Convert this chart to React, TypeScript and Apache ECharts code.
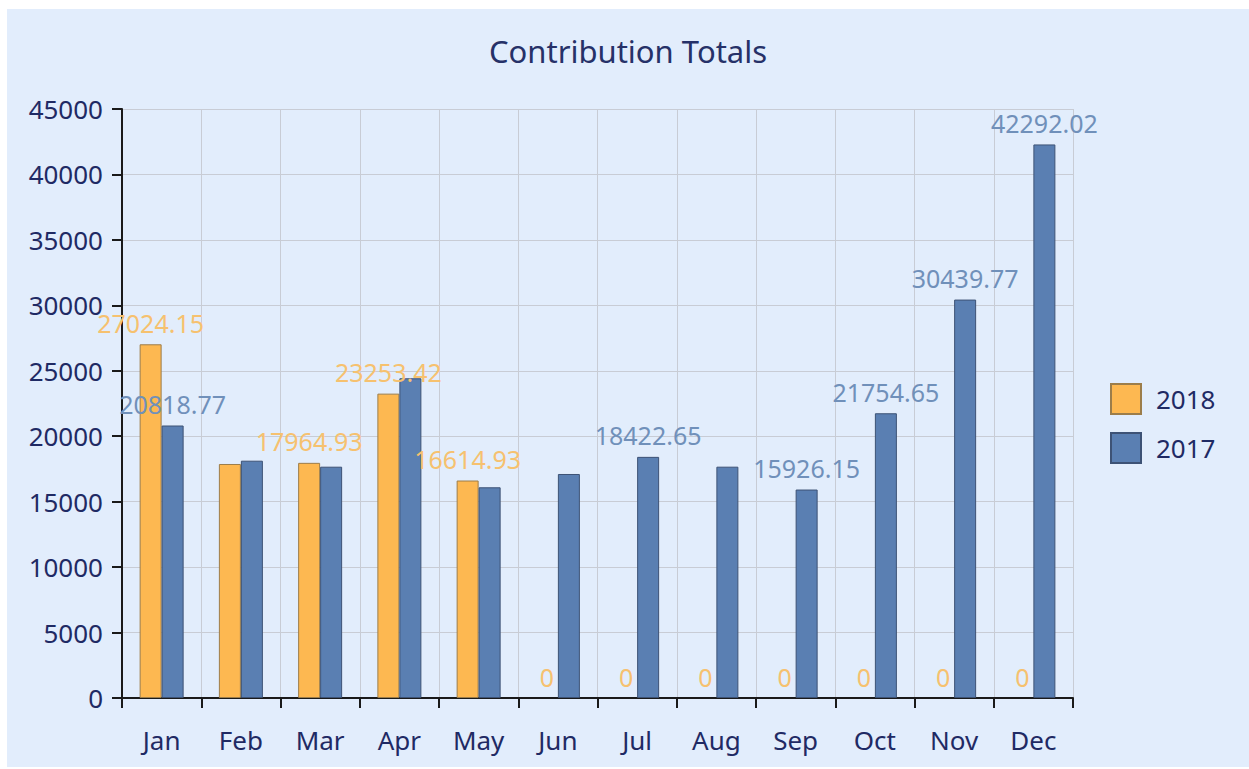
import React, { useEffect, useRef } from "react";
import * as echarts from "echarts";

const months = ["Jan", "Feb", "Mar", "Apr", "May", "Jun", "Jul", "Aug", "Sep", "Oct", "Nov", "Dec"];
const values2018 = [27024.15, 17878.4, 17964.93, 23253.42, 16614.93, 0, 0, 0, 0, 0, 0, 0];
const values2017 = [20818.77, 18130.5, 17672.3, 24425.8, 16098.6, 17114.2, 18422.65, 17672.9, 15926.15, 21754.65, 30439.77, 42292.02];
const show2018 = [true, false, true, true, true, true, true, true, true, true, true, true];
const show2017 = [true, false, false, false, false, false, true, false, true, true, true, true];
const yTicks = { min: 0, max: 45000, interval: 5000 };

const FONT = "'Noto Sans', 'Open Sans', sans-serif";

export default function App() {
  const ref = useRef<HTMLDivElement>(null);
  useEffect(() => {
    if (!ref.current) return;
    const chart = echarts.init(ref.current, null, { renderer: "svg" });
    const mk = (vals: number[], shows: boolean[]) =>
      vals.map((v, i) => ({
        value: v,
        label: { show: shows[i] },
        itemStyle: v === 0 ? { borderWidth: 0 } : undefined,
      }));
    chart.setOption({
      animation: false,
      backgroundColor: "#e2edfc",
      textStyle: { fontFamily: FONT },
      title: {
        text: "Contribution Totals",
        left: "center",
        top: 21,
        textStyle: { fontSize: 31, fontWeight: "normal", color: "#263168", fontFamily: FONT },
      },
      legend: {
        orient: "vertical",
        left: 1098,
        top: 369,
        itemWidth: 30,
        itemHeight: 30,
        itemGap: 17,
        icon: "rect",
        textStyle: { fontSize: 26, color: "#1f2a64", fontFamily: FONT, padding: [0, 0, 0, 10] },
        data: ["2018", "2017"],
      },
      grid: { left: 115, top: 100, right: 176, bottom: 69, containLabel: false },
      xAxis: {
        type: "category",
        data: months,
        axisLine: { lineStyle: { color: "#1a1a1a", width: 2 } },
        axisTick: { show: true, inside: false, alignWithLabel: false, length: 10, lineStyle: { color: "#1a1a1a", width: 2 } },
        axisLabel: { fontSize: 26, color: "#1f2a64", margin: 29, fontFamily: FONT },
        splitLine: { show: true, lineStyle: { color: "#c8ccd5", width: 1 } },
      },
      yAxis: {
        type: "value",
        min: yTicks.min,
        max: yTicks.max,
        interval: yTicks.interval,
        axisLine: { show: true, lineStyle: { color: "#1a1a1a", width: 2 } },
        axisTick: { show: true, inside: false, length: 10, lineStyle: { color: "#1a1a1a", width: 2 } },
        axisLabel: { fontSize: 26, color: "#1f2a64", margin: 19, fontFamily: FONT, formatter: (v: number) => String(v) },
        splitLine: { show: true, lineStyle: { color: "#c8ccd5", width: 1 } },
      },
      series: [
        {
          name: "2018",
          type: "bar",
          data: mk(values2018, show2018),
          barWidth: 22,
          barGap: "0%",
          itemStyle: { color: "#fdb851", borderColor: "#9c7d4a", borderWidth: 1 },
          label: { position: "top", distance: 9, fontSize: 25, color: "#f6c16f", fontFamily: FONT },
        },
        {
          name: "2017",
          type: "bar",
          data: mk(values2017, show2017),
          barWidth: 22,
          barGap: "0%",
          itemStyle: { color: "#5a7fb2", borderColor: "#3d5275", borderWidth: 1 },
          label: { position: "top", distance: 9, fontSize: 25, color: "#7090ba", fontFamily: FONT },
        },
      ],
    });
    return () => chart.dispose();
  }, []);
  return (
    <div
      ref={ref}
      style={{ position: "absolute", left: 7, top: 9, width: 1242, height: 758 }}
    />
  );
}
